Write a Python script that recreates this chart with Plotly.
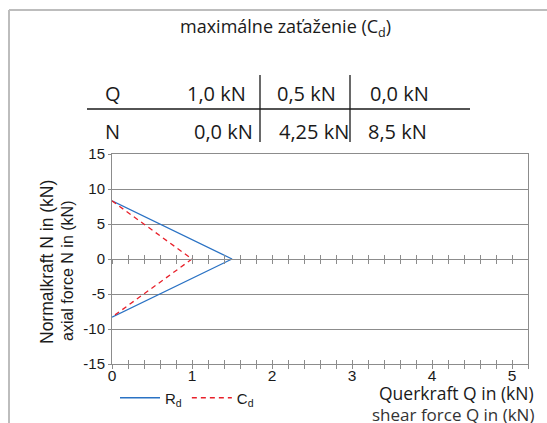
import plotly.graph_objects as go

# ---------------------------------------------------------------------------
# Data
# ---------------------------------------------------------------------------
rd_q = [0.0, 1.5, 0.0]
rd_n = [8.3, 0.0, -8.3]
cd_q = [0.0, 1.0, 0.0]
cd_n = [8.3, 0.0, -8.3]

table_rows = ["Q", "N"]
table_q = ["1,0 kN", "0,5 kN", "0,0 kN"]
table_n = ["0,0 kN", "4,25 kN", "8,5 kN"]

x_ticks = [0, 1, 2, 3, 4, 5]
y_ticks = [-15, -10, -5, 0, 5, 10, 15]
y_tick_labels = ["-15", "-10", "-5", "0", "5", "10", "15"]

# ---------------------------------------------------------------------------
# Geometry helpers (pixel -> paper)
# ---------------------------------------------------------------------------
W, H = 547, 423
L, R, T, B = 112, 19, 154, 59
PW, PH = W - L - R, H - T - B


def px(x):
    return (x - L) / PW


def py(y):
    return (H - B - y) / PH


GRID = "#8c8c8c"
HELV = "Liberation Sans, Arial, Helvetica, sans-serif"
HUMAN = "Open Sans, Noto Sans, sans-serif"

fig = go.Figure()
fig.add_trace(go.Scatter(
    x=rd_q, y=rd_n, mode="lines", name="R<sub>d</sub>",
    line=dict(color="#2a72c4", width=1.3),
))
fig.add_trace(go.Scatter(
    x=cd_q, y=cd_n, mode="lines", name="C<sub>d</sub>",
    line=dict(color="#e8202a", width=1.3, dash="5px,4px"),
))
for ax in ["x2", "x3", "x4"]:
    fig.add_trace(go.Scatter(x=[], y=[], xaxis=ax, showlegend=False))

tick_common = dict(range=[0, 5.2], showgrid=False, zeroline=False,
                   tickcolor=GRID, ticklen=4, tickwidth=1,
                   minor=dict(dtick=0.2, ticklen=4, tickcolor=GRID, tickwidth=1))

fig.update_layout(
    width=W, height=H,
    margin=dict(l=L, r=R, t=T, b=B, autoexpand=False),
    paper_bgcolor="white", plot_bgcolor="white",
    font=dict(family=HELV, size=15, color="#1a1a1a"),
    showlegend=True,
    legend=dict(orientation="h", x=115 / W, y=1 - 398 / H, xanchor="left", yanchor="middle",
                xref="container", yref="container",
                font=dict(family=HELV, size=15, color="#1a1a1a"),
                bgcolor="rgba(0,0,0,0)", itemwidth=40, tracegroupgap=0),
    xaxis=dict(**tick_common, anchor="y", tickvals=x_ticks, ticks="outside",
               showline=True, linecolor=GRID, linewidth=1, mirror=True,
               tickfont=dict(family=HELV, size=15.5), ticklabelstandoff=-7),
    xaxis2=dict(**tick_common, overlaying="x", anchor="y", tickvals=x_ticks,
                ticks="inside", showticklabels=False, showline=False),
    xaxis3=dict(**tick_common, overlaying="x", anchor="free", position=0.5,
                tickvals=x_ticks, ticks="outside", showticklabels=False,
                showline=True, linecolor=GRID, linewidth=1),
    xaxis4=dict(**tick_common, overlaying="x", anchor="free", position=0.5,
                tickvals=x_ticks, ticks="inside", showticklabels=False, showline=False),
    yaxis=dict(range=[-15, 15], tickvals=y_ticks, ticktext=y_tick_labels,
               showgrid=True, gridcolor=GRID,
               gridwidth=1, zeroline=False, showline=True, linecolor=GRID,
               linewidth=1, mirror=True, ticks="outside", ticklen=3, tickcolor=GRID,
               tickfont=dict(family=HELV, size=15)),
)
fig.layout.xaxis.minor.ticks = "outside"
fig.layout.xaxis2.minor.ticks = "inside"
fig.layout.xaxis3.minor.ticks = "outside"
fig.layout.xaxis4.minor.ticks = "inside"

ann = []
# title
ann.append(dict(text="maximálne zaťaženie (C<sub>d</sub>)", x=px(285), y=py(28),
                font=dict(family=HUMAN, size=18, color="#1a1a1a")))
# table
row_y = [94, 131]
col1_right = [248, 255]
col2_left = [275, 277]
col3_left = [368, 366]
for i, (lab, vals) in enumerate(zip(table_rows, [table_q, table_n])):
    f = dict(family=HUMAN, size=20, color="#1a1a1a")
    ann.append(dict(text=lab, x=px(103), y=py(row_y[i]), xanchor="left", font=f))
    ann.append(dict(text=vals[0], x=px(col1_right[i]), y=py(row_y[i]), xanchor="right", font=f))
    ann.append(dict(text=vals[1], x=px(col2_left[i]), y=py(row_y[i]), xanchor="left", font=f))
    ann.append(dict(text=vals[2], x=px(col3_left[i]), y=py(row_y[i]), xanchor="left", font=f))
# axis titles
ann.append(dict(text="Querkraft Q in (kN)", x=px(536), y=py(393), xanchor="right",
                font=dict(family=HUMAN, size=17.5, color="#1a1a1a")))
ann.append(dict(text="shear force Q in (kN)", x=px(536), y=py(414), xanchor="right",
                font=dict(family=HUMAN, size=17, color="#333333")))
ann.append(dict(text="Normalkraft N in (kN)", x=px(47), y=py(262), textangle=-90,
                font=dict(family=HELV, size=17.5, color="#1a1a1a")))
ann.append(dict(text="axial force N in (kN)", x=px(67), y=py(271), textangle=-90,
                font=dict(family=HELV, size=16, color="#1a1a1a")))
for a in ann:
    a.setdefault("xanchor", "center")
    a.update(xref="paper", yref="paper", yanchor="middle", showarrow=False)
fig.update_layout(annotations=ann)

shapes = [
    # outer frame (top and left only)
    dict(type="line", x0=px(9), x1=px(W), y0=py(10), y1=py(10), line=dict(color="#bdbdbd", width=2)),
    dict(type="line", x0=px(9), x1=px(9), y0=py(10), y1=py(H), line=dict(color="#bdbdbd", width=2)),
    # table rules
    dict(type="line", x0=px(87), x1=px(470), y0=py(109), y1=py(109), line=dict(color="#1a1a1a", width=1.3)),
    dict(type="line", x0=px(260), x1=px(260), y0=py(75), y1=py(142), line=dict(color="#1a1a1a", width=1.3)),
    dict(type="line", x0=px(350), x1=px(350), y0=py(75), y1=py(142), line=dict(color="#1a1a1a", width=1.3)),
]
for s in shapes:
    s.update(xref="paper", yref="paper")
fig.update_layout(shapes=shapes)

fig.write_html("out.html", config={"displayModeBar": False},
               post_script="document.body.style.margin='0';document.body.style.overflow='hidden';")
